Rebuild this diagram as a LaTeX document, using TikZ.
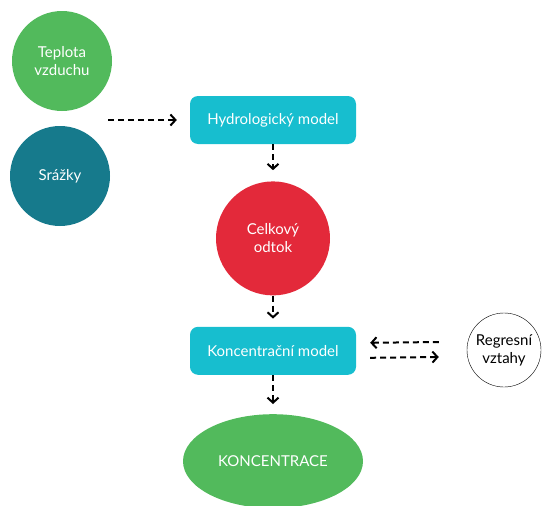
\documentclass[tikz,border=0pt]{standalone}
\usepackage{fontspec}
\setmainfont{Lato}
\usetikzlibrary{shapes.geometric, arrows.meta, positioning}
\definecolor{leafgreen}{RGB}{82, 186, 92}
\definecolor{deepteal}{RGB}{22, 122, 140}
\definecolor{cyanbox}{RGB}{23, 190, 207}
\definecolor{flowred}{RGB}{227, 41, 58}

\begin{document}
\begin{tikzpicture}[
    x=1pt, y=-1pt,
    every node/.style={font=\fontsize{15}{18}\selectfont, text=white, align=center},
    ball/.style={circle, inner sep=0pt},
    model/.style={rectangle, fill=cyanbox, rounded corners=8pt, minimum width=166pt, minimum height=48pt},
    arrow/.style={-{Straight Barb[length=5pt, width=11pt]}, line width=2pt, dash pattern=on 6pt off 4pt, black}
]
    \useasboundingbox (0,0) rectangle (542,506);
    % Nodes
    \node (teplota) [ball, fill=leafgreen, minimum size=100pt] at (62,61) {Teplota\\vzduchu};
    \node (srazky) [ball, fill=deepteal, minimum size=100pt] at (60,176) {Srážky};
    \node (hydro) [model] at (273,120) {Hydrologický model};
    \node (odtok) [ball, fill=flowred, minimum size=114pt, below=37pt of hydro] {Celkový\\odtok};
    \node (konc) [model, below=31pt of odtok] {Koncentrační model};
    \node (vysledek) [ellipse, fill=leafgreen, minimum width=180pt, minimum height=94pt, inner sep=0pt, below=39pt of konc] {KONCENTRACE};
    \node (regrese) [ball, draw=black, text=black, minimum size=74pt] at (504,350) {Regresní\\vztahy};

    \coordinate (vstup) at (108,120);

    % Connections
    \draw [arrow] (vstup) -- ([xshift=-13pt]hydro.west);
    \draw [arrow] (hydro) -- ([yshift=11pt]odtok.north);
    \draw [arrow] (odtok) -- ([yshift=8pt]konc.north);
    \draw [arrow] (konc) -- ([yshift=10pt]vysledek.north);
    \draw [arrow] ([xshift=-28pt,yshift=8pt]regrese.west) -- ([xshift=14pt,yshift=8pt]konc.east);
    \draw [arrow] ([xshift=14pt,yshift=-7pt]konc.east) -- ([xshift=-28pt,yshift=-7pt]regrese.west);
\end{tikzpicture}
\end{document}
